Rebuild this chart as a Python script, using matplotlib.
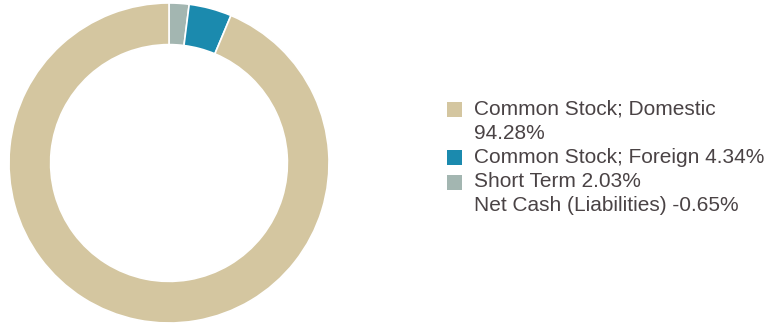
import matplotlib.pyplot as plt
from matplotlib.patches import Rectangle

plt.rcParams['font.family'] = ['Liberation Sans', 'DejaVu Sans']

# slice order clockwise from 12 o'clock
slice_labels = ["Short Term", "Common Stock; Foreign", "Common Stock; Domestic"]
slice_values = [2.03, 4.34, 94.28]
slice_colors = ["#a3b6b1", "#1b8aae", "#d4c6a0"]

legend_lines = ["Common Stock; Domestic", "94.28%",
                "Common Stock; Foreign 4.34%", "Short Term 2.03%",
                "Net Cash (Liabilities) -0.65%"]
legend_colors = ["#d4c6a0", None, "#1b8aae", "#a3b6b1", None]

W, H = 770, 324
fig = plt.figure(figsize=(W / 100, H / 100), dpi=100)
fig.patch.set_facecolor("white")

cx, cy, r = 169, 163, 160
ax = fig.add_axes([(cx - r) / W, (H - cy - r) / H, 2 * r / W, 2 * r / H])
ax.pie(slice_values, colors=slice_colors, startangle=90, counterclock=False,
       wedgeprops={"width": 0.26, "edgecolor": "white", "linewidth": 1.2})
ax.set_aspect("equal")
ax.set_xlim(-1, 1)
ax.set_ylim(-1, 1)

text_color = "#4a4345"
y0, step = 109, 24.2
for i, (txt, col) in enumerate(zip(legend_lines, legend_colors)):
    y = y0 + i * step
    if col:
        fig.patches.append(Rectangle((447 / W, 1 - (y + 8) / H), 15 / W, 15 / H,
                                     transform=fig.transFigure, facecolor=col,
                                     edgecolor="none"))
    fig.text(474 / W, 1 - y / H, txt, fontsize=15, color=text_color,
             va="center", ha="left")

fig.savefig("out.png", dpi=100)
